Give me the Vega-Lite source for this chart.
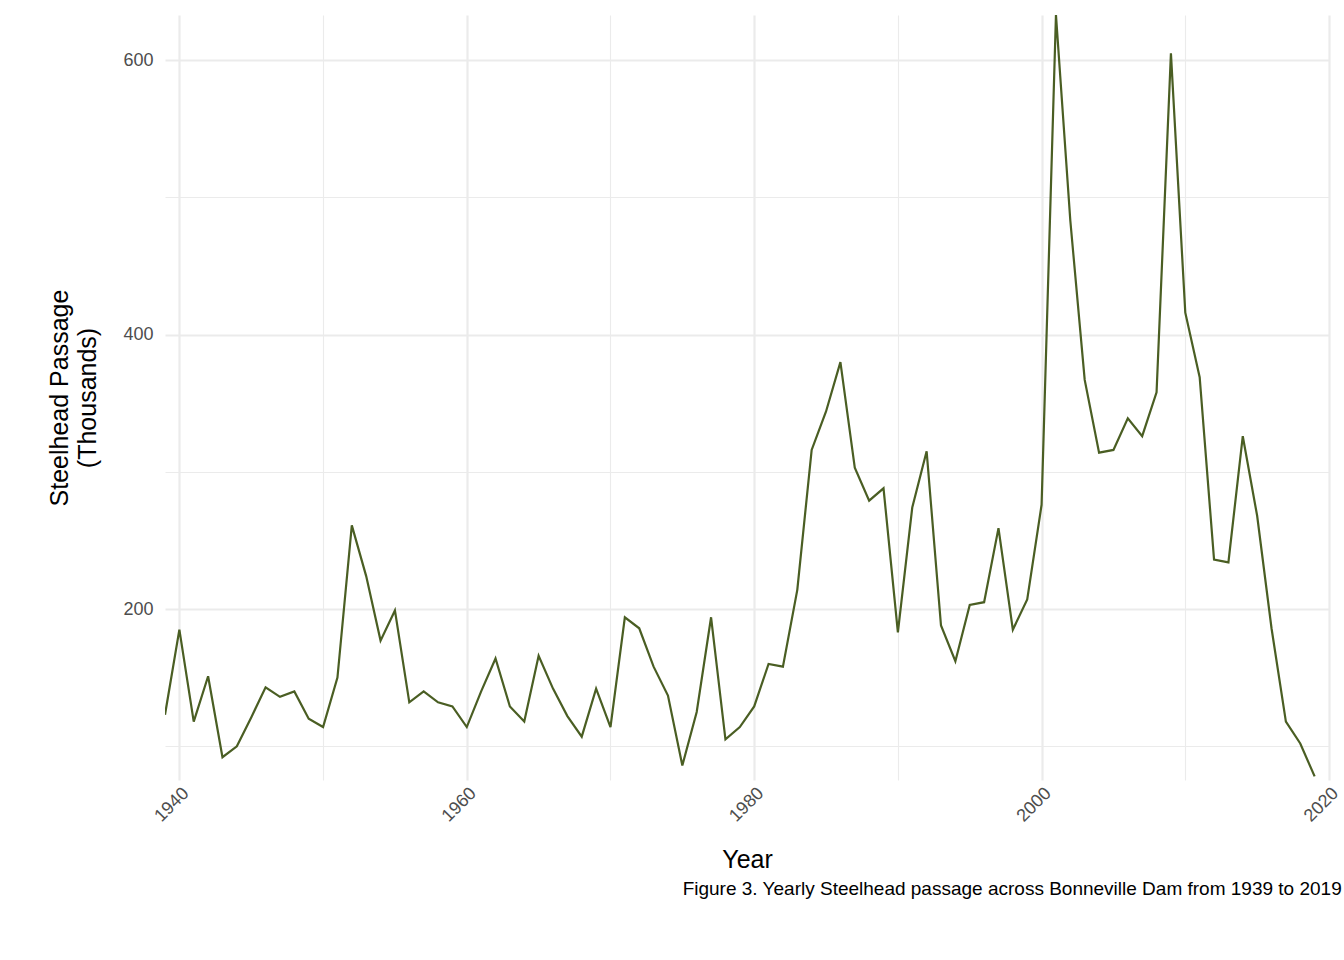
{
  "$schema": "https://vega.github.io/schema/vega-lite/v6.json",
  "autosize": {"type": "none"},
  "padding": {"left": 165, "top": 15, "right": 15, "bottom": 180},
  "width": 1164,
  "height": 765,
  "background": "#ffffff",
  "config": {"font": "Liberation Sans", "view": {"stroke": null}},
  "title": {
    "text": "Figure 3. Yearly Steelhead passage across Bonneville Dam from 1939 to 2019",
    "orient": "bottom", "anchor": "end", "fontSize": 19, "fontWeight": "normal",
    "color": "#000000", "offset": 8
  },
  "data": {"values": [
    {"year":1939,"passage":123},{"year":1940,"passage":185},{"year":1941,"passage":118},{"year":1942,"passage":151},
    {"year":1943,"passage":92},{"year":1944,"passage":100},{"year":1945,"passage":121},{"year":1946,"passage":143},
    {"year":1947,"passage":136},{"year":1948,"passage":140},{"year":1949,"passage":120},{"year":1950,"passage":114},
    {"year":1951,"passage":150},{"year":1952,"passage":261},{"year":1953,"passage":224},{"year":1954,"passage":177},
    {"year":1955,"passage":199},{"year":1956,"passage":132},{"year":1957,"passage":140},{"year":1958,"passage":132},
    {"year":1959,"passage":129},{"year":1960,"passage":114},{"year":1961,"passage":140},{"year":1962,"passage":164},
    {"year":1963,"passage":129},{"year":1964,"passage":118},{"year":1965,"passage":166},{"year":1966,"passage":142},
    {"year":1967,"passage":122},{"year":1968,"passage":107},{"year":1969,"passage":142},{"year":1970,"passage":114},
    {"year":1971,"passage":194},{"year":1972,"passage":186},{"year":1973,"passage":158},{"year":1974,"passage":137},
    {"year":1975,"passage":86},{"year":1976,"passage":125},{"year":1977,"passage":194},{"year":1978,"passage":105},
    {"year":1979,"passage":114},{"year":1980,"passage":129},{"year":1981,"passage":160},{"year":1982,"passage":158},
    {"year":1983,"passage":214},{"year":1984,"passage":316},{"year":1985,"passage":344},{"year":1986,"passage":380},
    {"year":1987,"passage":303},{"year":1988,"passage":279},{"year":1989,"passage":288},{"year":1990,"passage":183},
    {"year":1991,"passage":274},{"year":1992,"passage":315},{"year":1993,"passage":188},{"year":1994,"passage":162},
    {"year":1995,"passage":203},{"year":1996,"passage":205},{"year":1997,"passage":259},{"year":1998,"passage":185},
    {"year":1999,"passage":207},{"year":2000,"passage":276},{"year":2001,"passage":633},{"year":2002,"passage":483},
    {"year":2003,"passage":367},{"year":2004,"passage":314},{"year":2005,"passage":316},{"year":2006,"passage":339},
    {"year":2007,"passage":326},{"year":2008,"passage":358},{"year":2009,"passage":605},{"year":2010,"passage":416},
    {"year":2011,"passage":369},{"year":2012,"passage":236},{"year":2013,"passage":234},{"year":2014,"passage":326},
    {"year":2015,"passage":268},{"year":2016,"passage":186},{"year":2017,"passage":118},{"year":2018,"passage":102},
    {"year":2019,"passage":78}
  ]},
  "mark": {"type": "line", "color": "#4a5e23", "strokeWidth": 2.2, "clip": true},
  "encoding": {
    "x": {
      "field": "year", "type": "quantitative",
      "scale": {"domain": [1939, 2020], "nice": false, "zero": false},
      "axis": {
        "title": "Year", "titleFontSize": 25, "titleFontWeight": "normal", "titleColor": "#000000",
        "titlePadding": 22,
        "values": [1940, 1950, 1960, 1970, 1980, 1990, 2000, 2010, 2020],
        "labelExpr": "datum.value % 20 === 0 ? datum.value : ''",
        "labelAngle": -45, "labelAlign": "right", "labelBaseline": "top",
        "labelFontSize": 18, "labelColor": "#4d4d4d", "labelPadding": 4,
        "labelOverlap": false, "labelBound": false, "labelFlush": false,
        "domain": false, "ticks": false,
        "gridColor": "#ebebeb",
        "gridWidth": {"condition": {"test": "datum.value % 20 === 0", "value": 2.2}, "value": 1.1}
      }
    },
    "y": {
      "field": "passage", "type": "quantitative",
      "scale": {"domain": [75.4, 633], "nice": false, "zero": false},
      "axis": {
        "title": ["Steelhead Passage", "(Thousands)"], "titleFontSize": 25, "titleFontWeight": "normal",
        "titleColor": "#000000", "titlePadding": 22, "titleLineHeight": 28,
        "values": [100, 200, 300, 400, 500, 600],
        "labelExpr": "datum.value % 200 === 0 ? datum.value : ''",
        "labelFontSize": 18, "labelColor": "#4d4d4d", "labelPadding": 12,
        "domain": false, "ticks": false,
        "gridColor": "#ebebeb",
        "gridWidth": {"condition": {"test": "datum.value % 200 === 0", "value": 2.2}, "value": 1.1}
      }
    }
  }
}
